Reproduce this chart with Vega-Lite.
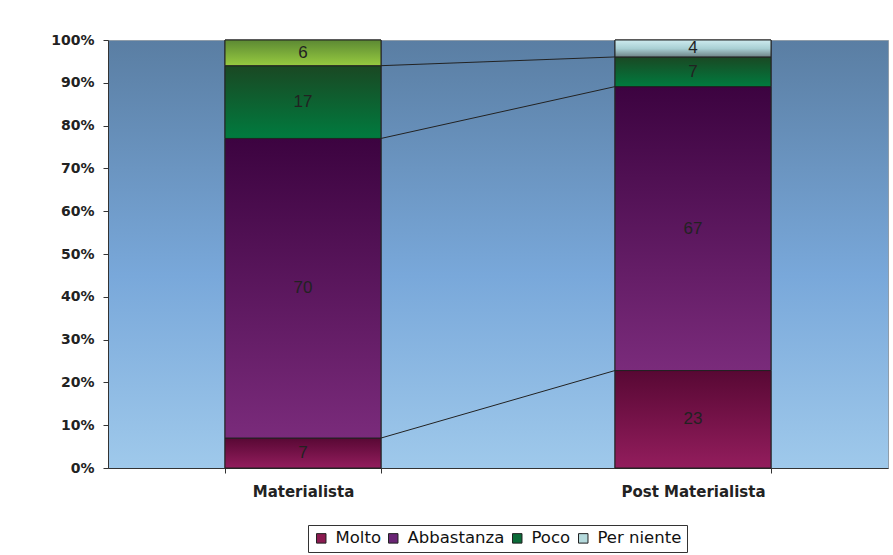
{
  "$schema": "https://vega.github.io/schema/vega-lite/v6.json",
  "width": 780,
  "height": 428,
  "autosize": {"type": "none"},
  "padding": {"left": 108, "top": 40, "right": 5, "bottom": 87},
  "background": "#ffffff",
  "config": {
    "font": "Liberation Sans",
    "view": {
      "stroke": "#8f9daa",
      "fill": {"gradient": "linear", "x1": 0, "y1": 0, "x2": 0, "y2": 1,
        "stops": [{"offset": 0, "color": "#5A7EA3"}, {"offset": 0.55, "color": "#79A8DA"}, {"offset": 1, "color": "#9FC9EB"}]}
    }
  },
  "data": {"values": [
    {"cat": "Materialista", "s": "Molto", "value": 7},
    {"cat": "Materialista", "s": "Abbastanza", "value": 70},
    {"cat": "Materialista", "s": "Poco", "value": 17},
    {"cat": "Materialista", "s": "Per niente", "value": 6},
    {"cat": "Post Materialista", "s": "Molto", "value": 23},
    {"cat": "Post Materialista", "s": "Abbastanza", "value": 67},
    {"cat": "Post Materialista", "s": "Poco", "value": 7},
    {"cat": "Post Materialista", "s": "Per niente", "value": 4}
  ]},
  "transform": [
    {"calculate": "indexof(['Molto','Abbastanza','Poco','Per niente'], datum.s)", "as": "ord"},
    {"window": [{"op": "sum", "field": "value", "as": "cum"}], "groupby": ["cat"], "sort": [{"field": "ord"}], "frame": [null, 0]},
    {"joinaggregate": [{"op": "sum", "field": "value", "as": "total"}], "groupby": ["cat"]},
    {"calculate": "(datum.cum - datum.value) / datum.total", "as": "lo"},
    {"calculate": "datum.cum / datum.total", "as": "hi"},
    {"calculate": "(datum.lo + datum.hi) / 2", "as": "mid"}
  ],
  "encoding": {
    "x": {"field": "cat", "type": "nominal", "title": null,
      "scale": {"paddingInner": 0.6, "paddingOuter": 0.3},
      "axis": {"labelAngle": 0, "labelFont": "DejaVu Sans", "labelFontWeight": "bold", "labelFontSize": 15, "labelColor": "#222222",
        "tickBand": "extent", "tickSize": 5, "labelPadding": 11, "domainColor": "#333333", "tickColor": "#333333"}},
    "y": {"field": "lo", "type": "quantitative", "title": null,
      "scale": {"domain": [0, 1]},
      "axis": {"format": ".0%", "values": [0, 0.1, 0.2, 0.3, 0.4, 0.5, 0.6, 0.7, 0.8, 0.9, 1], "grid": false,
        "labelFont": "DejaVu Sans", "labelFontWeight": "bold", "labelFontSize": 14, "labelColor": "#222222", "tickSize": 5, "labelPadding": 9,
        "domainColor": "#333333", "tickColor": "#333333"}},
    "y2": {"field": "hi"}
  },
  "layer": [
    {
      "mark": {"type": "bar", "stroke": "#222222", "strokeWidth": 1},
      "encoding": {
        "color": {
          "field": "s", "type": "nominal", "title": null,
          "sort": ["Molto", "Abbastanza", "Poco", "Per niente"],
          "scale": {"domain": ["Molto", "Abbastanza", "Poco", "Per niente"],
            "range": ["#8B1A50", "#6A2575", "#0B6B38", "#B5DADC"]},
          "legend": {"orient": "none", "direction": "horizontal", "legendX": 200, "legendY": 485,
            "strokeColor": "#333333", "padding": 5, "symbolType": "square", "symbolSize": 90, "symbolOpacity": 1,
            "symbolStrokeColor": "#222222", "symbolStrokeWidth": 1, "labelFont": "DejaVu Sans", "labelFontSize": 16.5, "labelColor": "#111111",
            "columnPadding": 4, "labelOffset": 6}
        }
      }
    },
    {
      "transform": [{"filter": "datum.s === 'Molto'"}],
      "mark": {"type": "bar", "stroke": "#222222", "strokeWidth": 1,
        "fill": {"gradient": "linear", "x1": 0, "y1": 0, "x2": 0, "y2": 1, "stops": [{"offset": 0, "color": "#580834"}, {"offset": 1, "color": "#931D5D"}]}}
    },
    {
      "transform": [{"filter": "datum.s === 'Abbastanza'"}],
      "mark": {"type": "bar", "stroke": "#222222", "strokeWidth": 1,
        "fill": {"gradient": "linear", "x1": 0, "y1": 0, "x2": 0, "y2": 1, "stops": [{"offset": 0, "color": "#3C0340"}, {"offset": 1, "color": "#7A2B7B"}]}}
    },
    {
      "transform": [{"filter": "datum.s === 'Poco'"}],
      "mark": {"type": "bar", "stroke": "#222222", "strokeWidth": 1,
        "fill": {"gradient": "linear", "x1": 0, "y1": 0, "x2": 0, "y2": 1, "stops": [{"offset": 0, "color": "#1A4823"}, {"offset": 1, "color": "#007B3F"}]}}
    },
    {
      "transform": [{"filter": "datum.s === 'Per niente' && datum.cat === 'Materialista'"}],
      "mark": {"type": "bar", "stroke": "#222222", "strokeWidth": 1,
        "fill": {"gradient": "linear", "x1": 0, "y1": 0, "x2": 0, "y2": 1, "stops": [{"offset": 0, "color": "#5C8933"}, {"offset": 1, "color": "#97CB40"}]}}
    },
    {
      "transform": [{"filter": "datum.s === 'Per niente' && datum.cat === 'Post Materialista'"}],
      "mark": {"type": "bar", "stroke": "#222222", "strokeWidth": 1,
        "fill": {"gradient": "linear", "x1": 0, "y1": 0, "x2": 0, "y2": 1, "stops": [{"offset": 0, "color": "#CDEBEF"}, {"offset": 0.5, "color": "#A9D0D4"}, {"offset": 1, "color": "#6E8386"}]}}
    },
    {
      "mark": {"type": "text", "fontSize": 17, "color": "#222222"},
      "encoding": {
        "y": {"field": "mid", "type": "quantitative"},
        "y2": null,
        "text": {"field": "value", "type": "quantitative"}
      }
    },
    {
      "transform": [
        {"filter": "datum.ord < 3"},
        {"pivot": "cat", "value": "hi", "groupby": ["ord"]}
      ],
      "mark": {"type": "rule", "color": "#222222", "strokeWidth": 1},
      "encoding": {
        "x": {"datum": "Materialista", "type": "nominal", "bandPosition": 1},
        "x2": {"datum": "Post Materialista", "bandPosition": 0},
        "y": {"field": "Materialista", "type": "quantitative"},
        "y2": {"field": "Post Materialista"}
      }
    }
  ]
}
